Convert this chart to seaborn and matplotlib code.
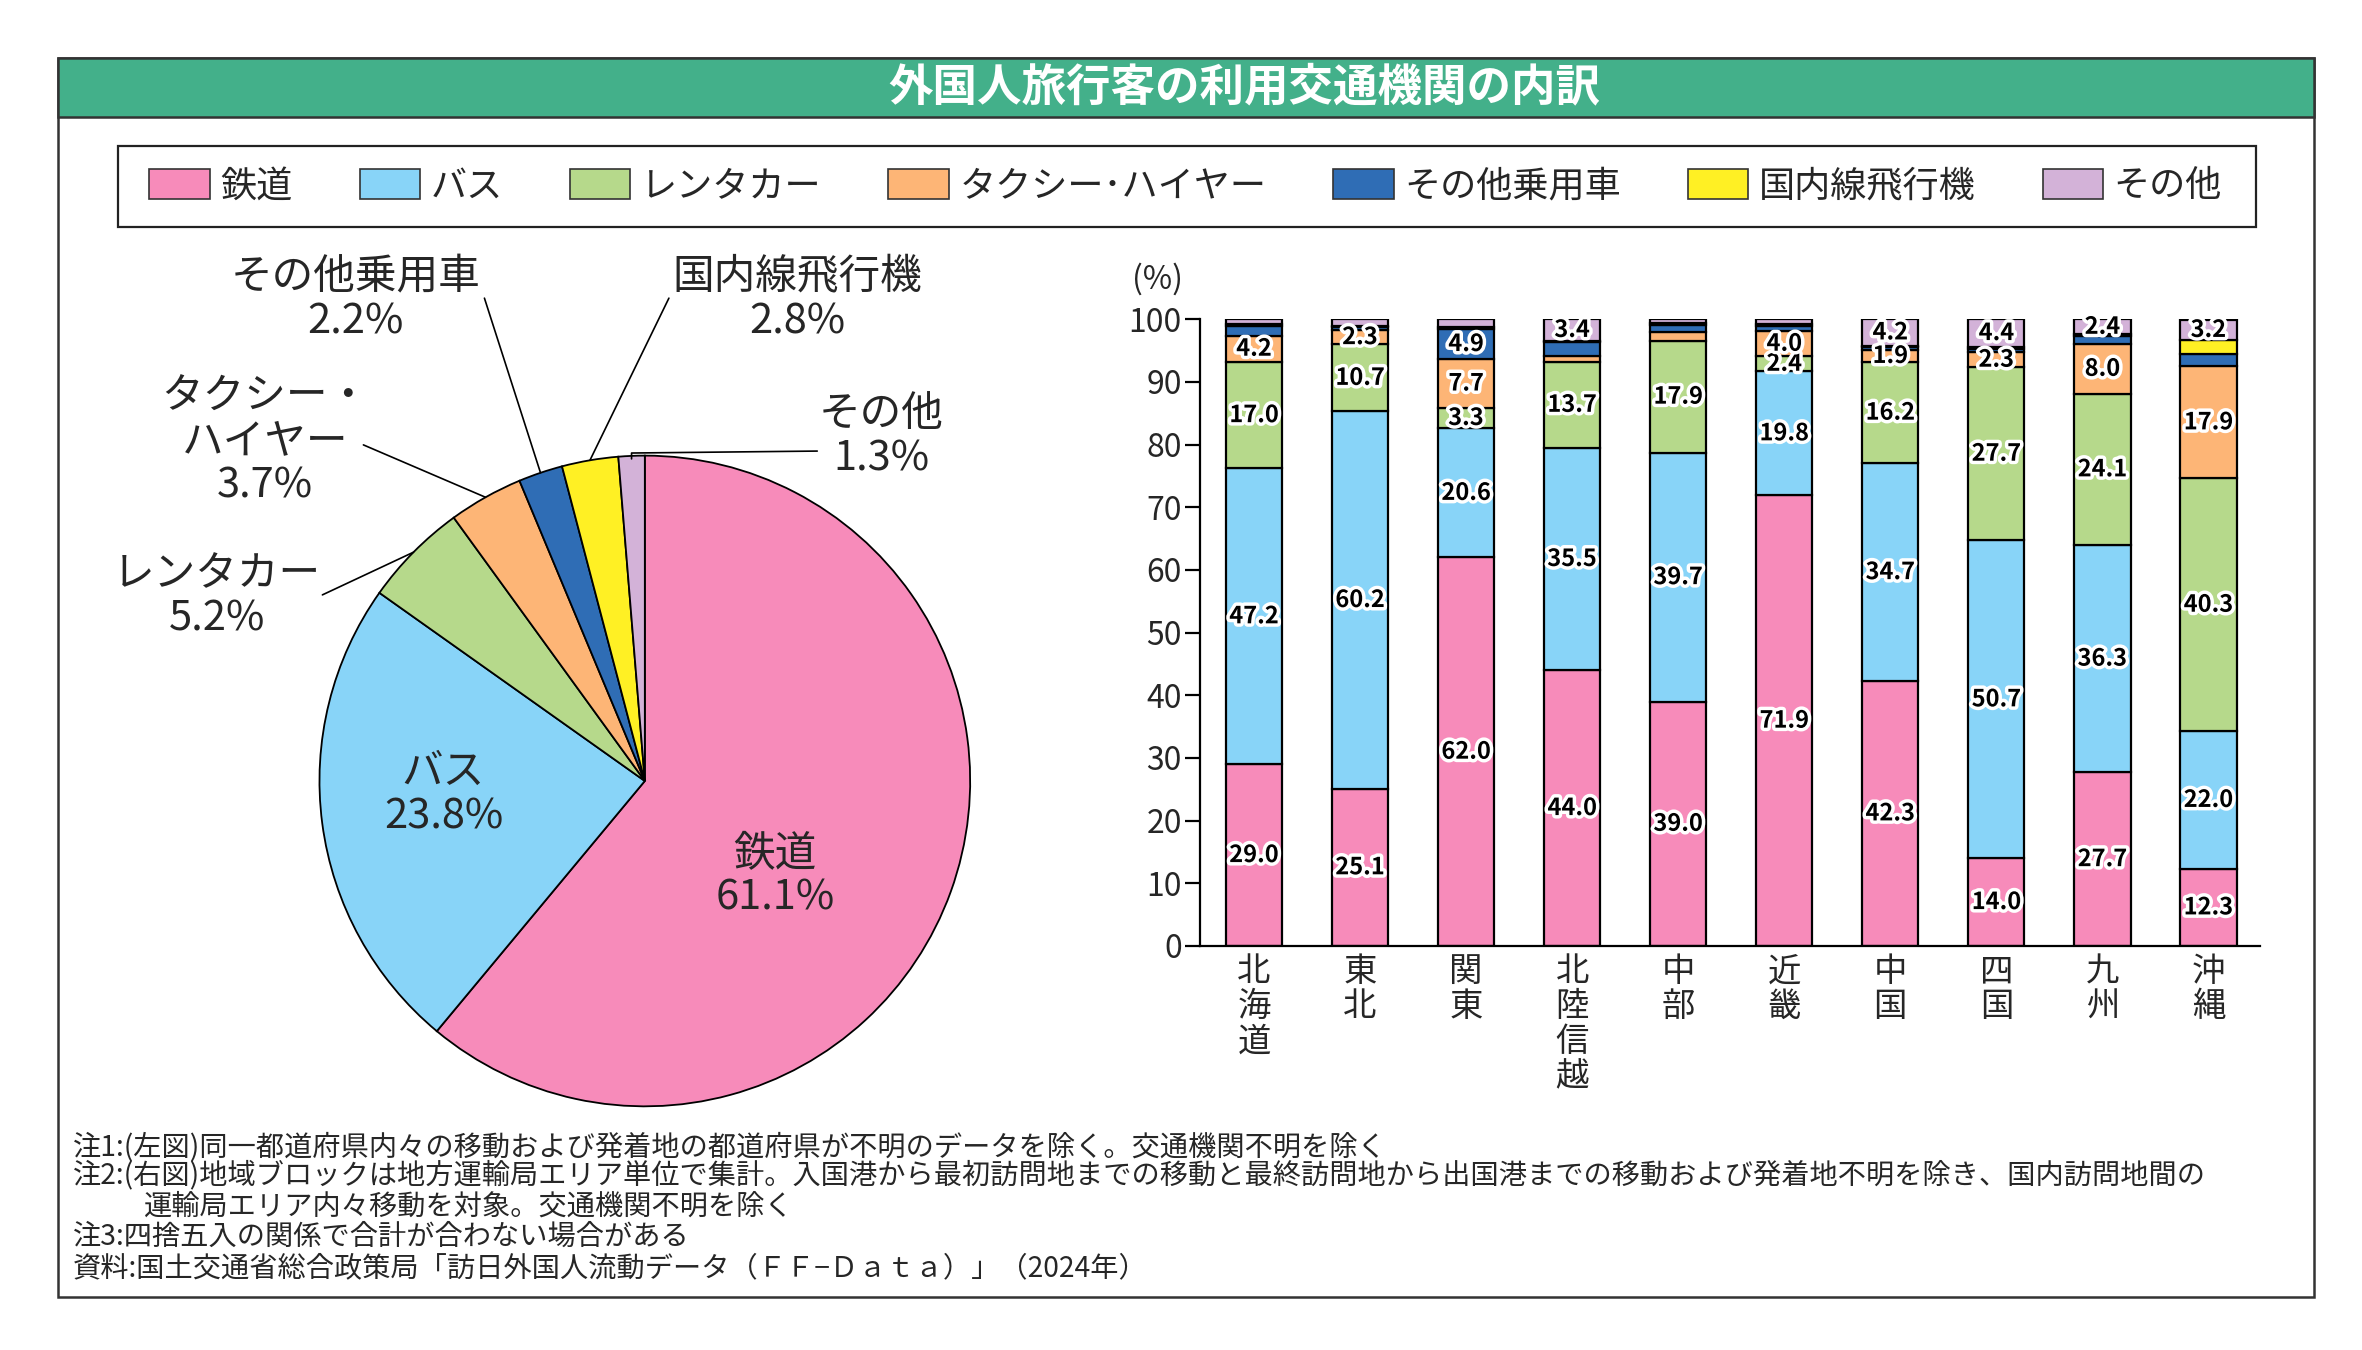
import numpy as np
import matplotlib
matplotlib.use("Agg")
import matplotlib.pyplot as plt
import matplotlib.patheffects as pe
from matplotlib.patches import Rectangle, Patch
import seaborn as sns

sns.set_theme(style="white")
plt.rcParams["font.family"] = ["Noto Sans CJK JP", "DejaVu Sans"]

# =========================================
# DATA
# =========================================
title = "外国人旅行客の利用交通機関の内訳"
modes = ["鉄道", "バス", "レンタカー", "タクシー･ハイヤー", "その他乗用車", "国内線飛行機", "その他"]
colors = ["#F78BBA", "#88D4F8", "#B6D98B", "#FDB576", "#2F6DB5", "#FFF024", "#D3B2D8"]

# left: nationwide share (%)
pie_values = [61.1, 23.8, 5.2, 3.7, 2.2, 2.8, 1.3]

# right: share by regional block (%)
regions = ["北海道", "東北", "関東", "北陸信越", "中部", "近畿", "中国", "四国", "九州", "沖縄"]
rail = [29.0, 25.1, 62.0, 44.0, 39.0, 71.9, 42.3, 14.0, 27.7, 12.3]
bus = [47.2, 60.2, 20.6, 35.5, 39.7, 19.8, 34.7, 50.7, 36.3, 22.0]
rental = [17.0, 10.7, 3.3, 13.7, 17.9, 2.4, 16.2, 27.7, 24.1, 40.3]
taxi = [4.2, 2.3, 7.7, 0.9, 1.4, 4.0, 1.9, 2.3, 8.0, 17.9]
other_car = [1.5, 0.5, 4.9, 2.2, 1.1, 0.9, 0.5, 0.6, 1.2, 1.9]
flight = [0.3, 0.2, 0.3, 0.3, 0.3, 0.3, 0.2, 0.3, 0.3, 2.3]
other = [0.8, 1.0, 1.2, 3.4, 0.6, 0.7, 4.2, 4.4, 2.4, 3.2]
series = [rail, bus, rental, taxi, other_car, flight, other]
# smallest value that gets a label, per mode
label_min = [1.9, 1.9, 1.9, 1.9, 3.0, 99, 1.9]

notes = [
    "注1:(左図)同一都道府県内々の移動および発着地の都道府県が不明のデータを除く。交通機関不明を除く",
    "注2:(右図)地域ブロックは地方運輸局エリア単位で集計。入国港から最初訪問地までの移動と最終訪問地から出国港までの移動および発着地不明を除き、国内訪問地間の",
    "運輸局エリア内々移動を対象。交通機関不明を除く",
    "注3:四捨五入の関係で合計が合わない場合がある",
    "資料:国土交通省総合政策局「訪日外国人流動データ（ＦＦ−Ｄａｔａ）」（2024年）",
]

# =========================================
# FIGURE / FRAME
# =========================================
fig = plt.figure(figsize=(23.62, 13.5), dpi=100)
fig.patch.set_facecolor("white")

fig.patches.append(Rectangle((0.0244, 0.0392), 0.9551, 0.9182, transform=fig.transFigure,
                             fill=False, ec="#333333", lw=1.8, zorder=0))
fig.patches.append(Rectangle((0.0244, 0.9137), 0.9551, 0.0437, transform=fig.transFigure,
                             fc="#43B08A", ec="#333333", lw=1.8, zorder=0))
fig.text(0.527, 0.9355, title, color="white", fontsize=32, fontweight="bold",
         ha="center", va="center")

# legend
fig.patches.append(Rectangle((0.050, 0.832), 0.905, 0.060, transform=fig.transFigure,
                             fill=False, ec="#222222", lw=1.6, zorder=0))
handles = [Patch(facecolor=c, edgecolor="#333333", lw=1.2) for c in colors]
fig.legend(handles, modes, loc="center", bbox_to_anchor=(0.502, 0.862), ncol=7,
           frameon=False, fontsize=26, handlelength=1.67, handleheight=0.93,
           handletextpad=0.3, columnspacing=1.85)

# =========================================
# PIE
# =========================================
k = 1.6
ax_pie = fig.add_axes([0.273 - 0.1378 * k, 0.4215 - 0.241 * k, 0.1378 * 2 * k, 0.241 * 2 * k])
wedges, _ = ax_pie.pie(pie_values, colors=colors, startangle=90, counterclock=False,
                       wedgeprops=dict(edgecolor="black", linewidth=1.3))
ax_pie.set_xlim(-k, k)
ax_pie.set_ylim(-k, k)
ax_pie.set_aspect("equal")
ax_pie.axis("off")

total = sum(pie_values)
cum = np.cumsum([0] + pie_values)
mid_ang = [np.deg2rad(90 - (cum[i] + pie_values[i] / 2) / total * 360) for i in range(len(pie_values))]

label_pos = [(0.40, -0.293), (-0.619, -0.042), (-1.316, 0.567), (-1.167, 1.042),
             (-0.888, 1.479), (0.470, 1.479), (0.726, 1.058)]
pie_names = ["鉄道", "バス", "レンタカー", "タクシー・\nハイヤー", "その他乗用車", "国内線飛行機", "その他"]
for name, v, (lx, ly) in zip(pie_names, pie_values, label_pos):
    ax_pie.text(lx, ly, f"{name}\n{v:.1f}%", fontsize=30, ha="center", va="center",
                linespacing=1.1)

# leader lines (start near label, end on wedge)
line_start = {2: (-0.991, 0.572), 3: (-0.865, 1.033), 4: (-0.493, 1.484), 5: (0.074, 1.484)}
for i, (sx, sy) in line_start.items():
    ex, ey = np.cos(mid_ang[i]), np.sin(mid_ang[i])
    ax_pie.plot([sx, ex], [sy, ey], color="black", lw=1.2)
ex = np.cos(mid_ang[6])
ax_pie.plot([0.53, ex, ex], [1.014, 1.008, 0.99], color="black", lw=1.2)

# =========================================
# STACKED BARS
# =========================================
ax = fig.add_axes([0.508, 0.2993, 0.449, 0.4642])
bottom = np.zeros(len(regions))
for vals, col, lmin in zip(series, colors, label_min):
    vals = np.array(vals)
    sns.barplot(x=regions, y=vals, bottom=bottom.copy(), color=col, saturation=1,
                width=0.53, edgecolor="black", linewidth=1.6, errorbar=None, ax=ax)
    for j, v in enumerate(vals):
        if v >= lmin:
            ax.text(j, bottom[j] + v / 2, f"{v:.1f}", ha="center", va="center",
                    fontsize=17, fontweight="bold", color="black",
                    path_effects=[pe.withStroke(linewidth=5, foreground="white")])
    bottom += vals

ax.set_xlim(-0.51, 9.49)
ax.set_ylim(0, 100)
ax.set_yticks(range(0, 101, 10))
ax.tick_params(axis="y", labelsize=23, length=11, width=1.6, direction="out", pad=2, left=True, color="black")
ax.tick_params(axis="x", length=0, pad=6)
ax.set_xticks(range(len(regions)))
ax.set_xticklabels(["\n".join(r) for r in regions], fontsize=24, linespacing=1.0, va="top")
ax.set_xlabel("")
ax.set_ylabel("")
sns.despine(ax=ax)
for s in ["left", "bottom"]:
    ax.spines[s].set_color("black")
    ax.spines[s].set_linewidth(1.6)
fig.text(0.490, 0.793, "(%)", fontsize=23, ha="center", va="center")

# =========================================
# NOTES
# =========================================
note_x = [0.0308, 0.0308, 0.0609, 0.0308, 0.0308]
note_y = [0.150, 0.129, 0.1065, 0.084, 0.0605]
for t, x, y in zip(notes, note_x, note_y):
    fig.text(x, y, t, fontsize=20.3, ha="left", va="center")

fig.savefig("out.png", dpi=100, facecolor="white")
